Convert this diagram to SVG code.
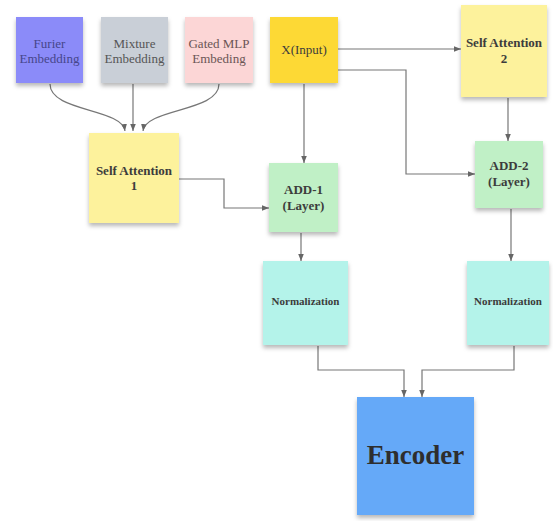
<svg xmlns="http://www.w3.org/2000/svg" width="553" height="521" viewBox="0 0 553 521">
  <defs>
    <filter id="note-shadow" x="-10%" y="-10%" width="120%" height="125%">
      <feDropShadow dx="0" dy="3" stdDeviation="2" flood-color="#000" flood-opacity="0.28"/>
    </filter>
    <marker id="arrow" viewBox="0 0 10 10" refX="10" refY="5" markerWidth="7" markerHeight="7" orient="auto" markerUnits="userSpaceOnUse">
      <path d="M0,1 L10,5 L0,9 z" fill="#666"/>
    </marker>
  </defs>
  <style>
    .note { filter: url(#note-shadow); }
    .lbl { font-family: "Liberation Serif", "DejaVu Serif", serif; text-anchor: middle; fill: #3c3c3c; }
    .sm { font-size: 13px; }
    .b { font-weight: bold; font-size: 13px; }
    .conn { fill: none; stroke: #777; stroke-width: 1.2; marker-end: url(#arrow); }
  </style>
  <rect width="553" height="521" fill="#fff"/>

  <g id="connectors">
    <path class="conn" d="M50,84 C50,112 122,108 125,131"/>
    <path class="conn" d="M133,84 L133,131"/>
    <path class="conn" d="M219,84 C219,112 146,108 143,131"/>
    <path class="conn" d="M338,49 L461,49"/>
    <path class="conn" d="M338,70 L406,70 L406,174 L475,174"/>
    <path class="conn" d="M304,84 L304,163"/>
    <path class="conn" d="M179,179 L224,179 L224,208 L269,208"/>
    <path class="conn" d="M508,98 L508,141"/>
    <path class="conn" d="M301,233 L301,261"/>
    <path class="conn" d="M511,209 L511,261"/>
    <path class="conn" d="M318,346 L318,370 L404,370 L404,397"/>
    <path class="conn" d="M514,346 L514,370 L422,370 L422,397"/>
  </g>

  <g id="furier">
    <rect class="note" x="16" y="17" width="67" height="66" fill="#8b8bf9"/>
    <text class="lbl sm" x="49.5" y="48" style="fill:#46468a">Furier</text>
    <text class="lbl sm" x="49.5" y="63" style="fill:#46468a">Embedding</text>
  </g>
  <g id="mixture">
    <rect class="note" x="101" y="17" width="67" height="66" fill="#c9cfd7"/>
    <text class="lbl sm" x="134.5" y="48" style="fill:#555">Mixture</text>
    <text class="lbl sm" x="134.5" y="63" style="fill:#555">Embedding</text>
  </g>
  <g id="gated">
    <rect class="note" x="185" y="17" width="68" height="66" fill="#fcd6d6"/>
    <text class="lbl sm" x="219" y="48" style="fill:#6a5555">Gated MLP</text>
    <text class="lbl sm" x="219" y="63" style="fill:#6a5555">Embeding</text>
  </g>
  <g id="input">
    <rect class="note" x="270" y="17" width="68" height="66" fill="#fdd935"/>
    <text class="lbl sm" x="304" y="54">X(Input)</text>
  </g>
  <g id="self-attention-2">
    <rect class="note" x="461" y="5" width="86" height="92" fill="#fdf29c"/>
    <text class="lbl b" x="504" y="47">Self Attention</text>
    <text class="lbl b" x="504" y="63">2</text>
  </g>
  <g id="self-attention-1">
    <rect class="note" x="89" y="133" width="90" height="90" fill="#fdf29c"/>
    <text class="lbl b" x="134" y="175">Self Attention</text>
    <text class="lbl b" x="134" y="190">1</text>
  </g>
  <g id="add-1">
    <rect class="note" x="269" y="163" width="69" height="69" fill="#c0f0c6"/>
    <text class="lbl b" x="303.5" y="194">ADD-1</text>
    <text class="lbl b" x="303.5" y="210">(Layer)</text>
  </g>
  <g id="add-2">
    <rect class="note" x="475" y="141" width="68" height="67" fill="#c0f0c6"/>
    <text class="lbl b" x="509" y="170">ADD-2</text>
    <text class="lbl b" x="509" y="186">(Layer)</text>
  </g>
  <g id="norm-1">
    <rect class="note" x="263" y="261" width="85" height="84" fill="#b4f3ea"/>
    <text class="lbl" x="305.5" y="305" font-size="11" font-weight="bold">Normalization</text>
  </g>
  <g id="norm-2">
    <rect class="note" x="467" y="261" width="82" height="84" fill="#b4f3ea"/>
    <text class="lbl" x="508" y="305" font-size="11" font-weight="bold">Normalization</text>
  </g>
  <g id="encoder">
    <rect class="note" x="357" y="397" width="117" height="118" fill="#65a9f8"/>
    <text class="lbl" x="415.5" y="464" font-size="27" font-weight="bold" style="fill:#2e2e2e">Encoder</text>
  </g>
</svg>
